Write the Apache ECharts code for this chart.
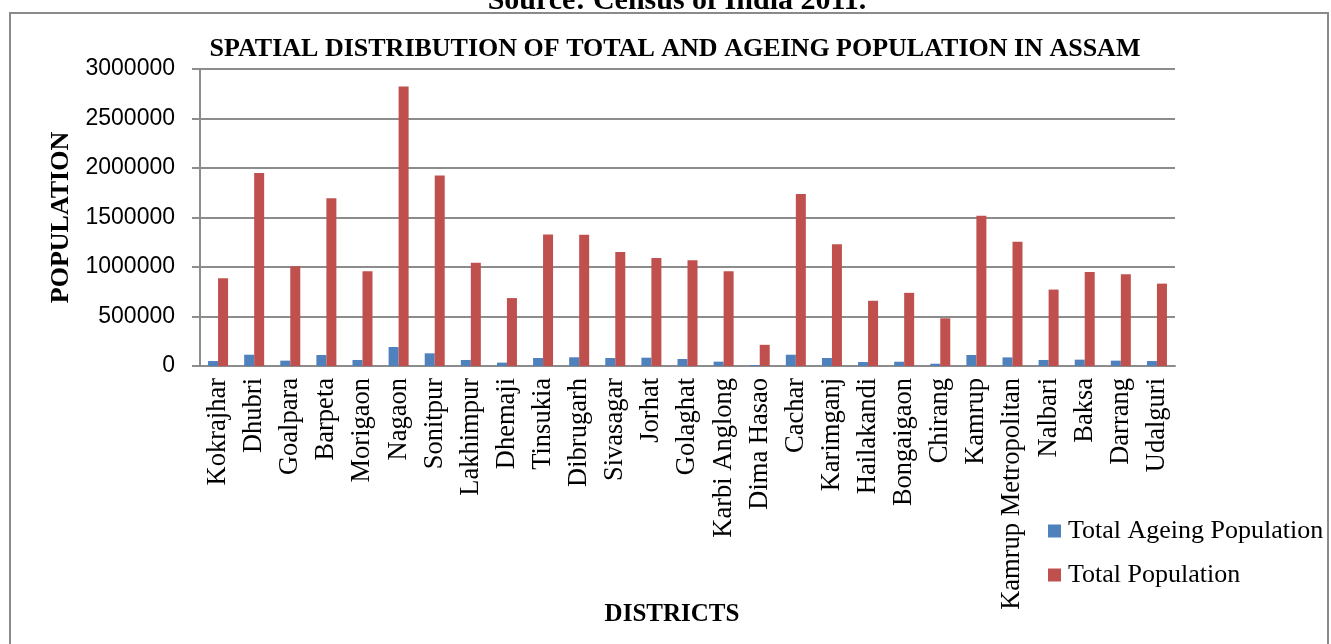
<!DOCTYPE html>
<html>
<head>
<meta charset="utf-8">
<title>Spatial distribution of total and ageing population in Assam</title>
<script src="https://cdn.jsdelivr.net/npm/echarts@6/dist/echarts.min.js"></script>
<style>
  html, body { margin: 0; padding: 0; background: #fff; }
  #chart { width: 1331px; height: 644px; }
</style>
</head>
<body>
<div id="chart"></div>
<script>
// district names along the x axis
const districts = [
  'Kokrajhar', 'Dhubri', 'Goalpara', 'Barpeta', 'Morigaon', 'Nagaon', 'Sonitpur',
  'Lakhimpur', 'Dhemaji', 'Tinsukia', 'Dibrugarh', 'Sivasagar', 'Jorhat', 'Golaghat',
  'Karbi Anglong', 'Dima Hasao', 'Cachar', 'Karimganj', 'Hailakandi', 'Bongaigaon',
  'Chirang', 'Kamrup', 'Kamrup Metropolitan', 'Nalbari', 'Baksa', 'Darrang', 'Udalguri'
];

// values
const ageingPopulation = [
  50000, 114000, 54000, 111000, 61000, 192000, 128000,
  61000, 34000, 81000, 88000, 81000, 84000, 71000,
  44000, 10000, 114000, 81000, 40000, 43000,
  23000, 111000, 87000, 61000, 64000, 54000, 50000
];
const totalPopulation = [
  887000, 1949000, 1008000, 1694000, 957000, 2824000, 1924000,
  1042000, 686000, 1328000, 1326000, 1151000, 1092000, 1067000,
  956000, 214000, 1737000, 1229000, 659000, 739000,
  482000, 1518000, 1254000, 772000, 950000, 928000, 832000
];

const seriesNames = ['Total Ageing Population', 'Total Population'];
const yTicks = { min: 0, max: 3000000, interval: 500000 };

const serif = '"Liberation Serif", "Times New Roman", serif';
const gridGray = '#8c8c8c';

const chart = echarts.init(document.getElementById('chart'));

const option = {
  backgroundColor: '#fff',
  animation: false,
  grid: { left: 200, right: 156, top: 69, height: 297, containLabel: false },
  legend: {
    orient: 'vertical',
    left: 1043,
    top: 513,
    itemWidth: 13,
    itemHeight: 13,
    itemGap: 18,
    icon: 'rect',
    textStyle: { fontFamily: serif, fontSize: 26, color: '#000', padding: [0, 0, 0, 2] },
    data: seriesNames
  },
  xAxis: {
    type: 'category',
    data: districts,
    axisLine: { lineStyle: { color: gridGray, width: 2 } },
    axisTick: { show: false },
    axisLabel: {
      interval: 0,
      rotate: 90,
      margin: 12,
      fontFamily: serif,
      fontSize: 26.5,
      color: '#000'
    }
  },
  yAxis: {
    type: 'value',
    min: yTicks.min,
    max: yTicks.max,
    interval: yTicks.interval,
    name: 'POPULATION',
    nameLocation: 'middle',
    nameRotate: 90,
    nameGap: 115,
    nameTextStyle: { fontFamily: serif, fontSize: 26, fontWeight: 'bold', color: '#000' },
    axisLine: { show: true, lineStyle: { color: gridGray, width: 2 } },
    axisTick: { show: true, length: 8, lineStyle: { color: gridGray, width: 2 } },
    axisLabel: {
      margin: 25,
      fontFamily: '"Liberation Sans", Arial, sans-serif',
      fontSize: 23,
      color: '#000',
      formatter: (v) => String(v)
    },
    splitLine: { lineStyle: { color: gridGray, width: 2 } }
  },
  series: [
    {
      name: seriesNames[0],
      type: 'bar',
      data: ageingPopulation,
      barWidth: 10,
      barGap: '0%',
      itemStyle: { color: '#4F81BD' }
    },
    {
      name: seriesNames[1],
      type: 'bar',
      data: totalPopulation,
      barWidth: 10,
      barGap: '0%',
      itemStyle: { color: '#C0504D' }
    }
  ],
  graphic: [
    {
      type: 'rect',
      shape: { x: 10, y: 13, width: 1318, height: 700 },
      style: { fill: 'none', stroke: '#8a8a8a', lineWidth: 2 },
      silent: true
    },
    {
      type: 'text',
      x: 677, y: 1,
      style: {
        text: 'Source: Census of India 2011.',
        font: 'bold 30px ' + serif,
        fill: '#000',
        align: 'center',
        verticalAlign: 'middle'
      }
    },
    {
      type: 'text',
      x: 675, y: 49,
      style: {
        text: 'SPATIAL DISTRIBUTION OF TOTAL AND AGEING POPULATION IN ASSAM',
        font: 'bold 26px ' + serif,
        fill: '#000',
        align: 'center',
        verticalAlign: 'middle'
      }
    },
    {
      type: 'text',
      x: 672, y: 615,
      style: {
        text: 'DISTRICTS',
        font: 'bold 25px ' + serif,
        fill: '#000',
        align: 'center',
        verticalAlign: 'middle'
      }
    }
  ]
};

chart.setOption(option);
window.addEventListener('resize', () => chart.resize());
</script>
</body>
</html>
